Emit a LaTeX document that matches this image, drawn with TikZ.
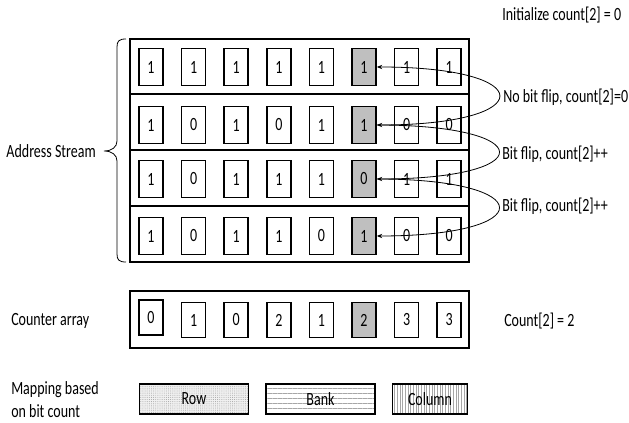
\documentclass[tikz,border=0pt]{standalone}
\usepackage{fontspec}
\setmainfont{Carlito}[FakeStretch=0.75]
\usetikzlibrary{patterns,patterns.meta,arrows.meta}
\begin{document}
\begin{tikzpicture}[x=0.75pt,y=-0.75pt,
  font=\fontsize{14}{17}\selectfont,
  rowbox/.style={draw,line width=1.5pt,minimum width=254.25pt,inner sep=0pt},
  cell/.style={draw,line width=1.3pt,minimum width=18pt,minimum height=27.75pt,inner sep=0pt,fill=white},
  ccell/.style={draw,line width=1.3pt,minimum width=18pt,minimum height=26.25pt,inner sep=0pt,fill=white},
  hl/.style={fill=gray!50},
  mapbox/.style={draw,line width=1.2pt,minimum height=22.5pt,inner sep=0pt},
  lbl/.style={anchor=west,inner sep=0pt},
  arr/.style={-{Stealth[length=4pt,width=3.2pt]},line width=0.6pt},
  brc/.style={line width=0.6pt}
]
\useasboundingbox (0,0) rectangle (629,423);

% address stream rows
\node[rowbox,minimum height=41.25pt] (r1) at (299.5,66.5) {};
\node[rowbox,minimum height=42pt] (r2) at (299.5,122) {};
\node[rowbox,minimum height=42pt] (r3) at (299.5,178) {};
\node[rowbox,minimum height=42pt] (r4) at (299.5,234) {};

\newcommand\mkrow[3]{%
  \foreach \b [count=\i from 0] in {#3} {%
    \ifnum\i=5
      \node[cell,hl] (c#1-\i) at ({151+42.6*\i},#2) {\b};
    \else
      \node[cell] (c#1-\i) at ({151+42.6*\i},#2) {\b};
    \fi
  }}
\mkrow{1}{67}{1,1,1,1,1,1,1,1}
\mkrow{2}{125}{1,0,1,0,1,1,0,0}
\mkrow{3}{179}{1,0,1,1,1,0,1,1}
\mkrow{4}{236}{1,0,1,1,0,1,0,0}

% curved arrows
\draw[arr,{Stealth[length=4pt,width=3.2pt]}-{Stealth[length=4pt,width=3.2pt]}] (c1-5.east) .. controls +(163,0) and +(163,0) .. (c2-5.east);
\draw[arr] (c2-5.east) .. controls +(163,0) and +(163,0) .. (c3-5.east);
\draw[arr] (c3-5.east) .. controls +(163,0) and +(163,0) .. (c4-5.east);

% labels on right
\node[lbl] (init) at (502,15) {Initialize count[2] = 0};
\node[lbl] (l1) at (503,97) {No bit flip, count[2]=0};
\node[lbl] (l2) at (502,154) {Bit flip, count[2]++};
\node[lbl] (l3) at (502,206) {Bit flip, count[2]++};

% brace
\coordinate (bt) at (126,39);
\coordinate (bb) at (126,262);
\coordinate (btip) at (104,151);
\draw[brc] (bt) .. controls (119,39) and (117,41) .. (117,47) -- (117,141)
  .. controls (117,147) and (112,151) .. (btip)
  .. controls (112,151) and (117,155) .. (117,161) -- (117,254)
  .. controls (117,260) and (119,262) .. (bb);
\node[anchor=east,inner sep=0pt] (as) at (96,151) {Address Stream};

% counter array
\node[rowbox,minimum height=42.75pt] (cnt) at (299.5,319.5) {};
\foreach \b [count=\i from 0] in {0,1,0,2,1,2,3,3} {
  \ifnum\i=0
    \node[ccell] (k-\i) at ({151+42.6*\i},317.5) {\b};
  \else\ifnum\i=5
    \node[ccell,hl] (k-\i) at ({151+42.6*\i},320) {\b};
  \else
    \node[ccell] (k-\i) at ({151+42.6*\i},320) {\b};
  \fi\fi
}
\node[lbl] (ca) at (11,321) {Counter array};
\node[lbl] (c2) at (504,321) {Count[2] = 2};

% mapping
\node[lbl,align=left] (mp) at (11,399.5) {Mapping based\\on bit count};
\node[mapbox,minimum width=82pt,preaction={fill=gray!12},pattern={Dots[distance=1.6pt,radius=0.35pt]},pattern color=gray!75] (mrow) at (194,399) {Row};
\node[mapbox,minimum width=82pt,pattern={Lines[angle=0,distance=3.75pt,line width=0.4pt]},pattern color=gray!70] (mbank) at (320.5,399) {Bank};
\node[mapbox,minimum width=56pt,pattern={Lines[angle=90,distance=2pt,line width=0.35pt]},pattern color=gray!70] (mcol) at (430,399) {Column};
\end{tikzpicture}
\end{document}
